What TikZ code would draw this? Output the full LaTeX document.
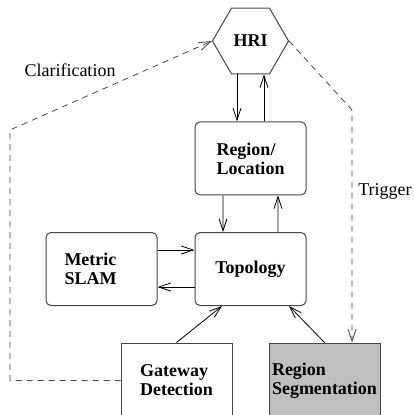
\documentclass[tikz,border=0pt]{standalone}
\usepackage{fontspec}
\setmainfont{Liberation Serif}
\usepackage{tikz}
\usetikzlibrary{positioning,arrows.meta,calc,shapes.geometric}
\definecolor{mpedge}{RGB}{70,70,70}
\definecolor{mpfill}{RGB}{191,191,191}

\begin{document}
\begin{tikzpicture}[x=1pt, y=-1pt,
  unit/.style={draw=mpedge, line width=1pt, rounded corners=5pt, align=left,
               minimum width=111pt, minimum height=73pt, inner sep=2pt,
               font=\fontsize{18}{19}\selectfont\bfseries},
  feed/.style={unit, rounded corners=0pt, minimum height=75pt},
  hub/.style={regular polygon, regular polygon sides=6, draw=mpedge, line width=1pt,
              minimum size=76pt, inner sep=0pt, font=\fontsize{18}{19}\selectfont\bfseries},
  flow/.style={-{Straight Barb[length=12pt, width=8pt]}, line width=0.8pt},
  query/.style={flow, draw=mpedge, dash pattern=on 6pt off 5pt},
  note/.style={font=\fontsize{18}{19}\selectfont, inner sep=0pt},
]
\useasboundingbox (0,0) rectangle (413,415);
\clip (0,0) rectangle (413,415);

\node[hub] (hri) at (250.5,41) {HRI};
\node[unit, below=47pt of hri] (loc) {Region/\\Location};
\node[unit] (topo) at (250.5,269) {Topology};
\node[unit, left=37pt of topo, text width=74pt] (slam) {Metric\\SLAM};
\node[feed] (gate) at (176.5,380.5) {Gateway\\Detection};
\node[feed, fill=mpfill] (seg) at (324.5,380.5) {Region\\Segmentation};

\draw[flow] ([xshift=-13.5pt]hri.south) -- ([xshift=-13.5pt]loc.north);
\draw[flow] ([xshift=13.5pt]loc.north) -- ([xshift=13.5pt]hri.south);
\draw[flow] ([xshift=-27.5pt]loc.south) -- ([xshift=-27.5pt]topo.north);
\draw[flow] ([xshift=27.5pt]topo.north) -- ([xshift=27.5pt]loc.south);
\draw[flow] ([yshift=19pt]slam.east) -- ([yshift=19pt]topo.west);
\draw[flow] ([yshift=-18pt]topo.west) -- ([yshift=-18pt]slam.east);
\draw[flow] (gate.north) -- ([xshift=-28.5pt]topo.south);
\draw[flow] (seg.north) -- ([xshift=38.5pt]topo.south);

% dashed requests
\coordinate (clbend) at (10,130);
\coordinate (trbend) at (352,110);
\draw[query] (gate.west) -| (clbend) -- (hri.west);
\draw[query] (hri.east) -- (trbend) -- (trbend |- seg.north);
\node[note] (clar) at (70,70) {Clarification};
\node[note] (trig) at (385,191) {Trigger};
\end{tikzpicture}
\end{document}
